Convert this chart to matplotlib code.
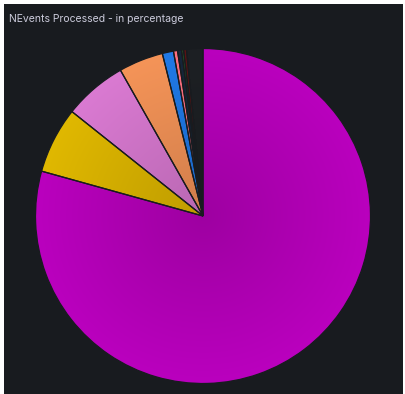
import numpy as np
import matplotlib
matplotlib.use("Agg")
import matplotlib.pyplot as plt
from matplotlib.patches import Rectangle
from matplotlib.colors import to_rgb

title = "NEvents Processed - in percentage"
series = ["s1", "s2", "s3", "s4", "s5", "s6", "s7", "s8", "s9", "s10"]
values = [79.4, 6.4, 6.1, 4.3, 1.08, 0.39, 0.39, 0.19, 0.28, 1.58]
colors = ["#ba00be", "#e0b800", "#da7ad2", "#f59458", "#2079e6",
          "#ff7080", "#16263a", "#2f7a2a", "#5a1414", "#1d2024"]

W, H = 405, 394
fig = plt.figure(figsize=(W / 100, H / 100), dpi=100, facecolor="white")
bg = Rectangle((4 / W, 0), (403 - 4) / W, (H - 4) / H,
               transform=fig.transFigure, facecolor="#181b1f",
               edgecolor="none", zorder=-10)
fig.add_artist(bg)

cx, cy, R = 203, 216, 167.5
ax = fig.add_axes([(cx - R) / W, (H - cy - R) / H, 2 * R / W, 2 * R / H])
ax.set_zorder(5)
ax.axis("off")

wedges, _ = ax.pie(values, colors=colors, startangle=90, counterclock=False,
                   radius=1, wedgeprops=dict(edgecolor="#181b1f", linewidth=0.9))

n = 400
xs = np.linspace(-1, 1, n)
X, Y = np.meshgrid(xs, xs)
r = np.clip(np.sqrt(X ** 2 + Y ** 2), 0, 1)
shade = 0.85 + 0.15 * r
for w, c in zip(wedges, colors):
    rgb = np.array(to_rgb(c))
    img = np.clip(shade[..., None] * rgb[None, None, :], 0, 1)
    im = ax.imshow(img, extent=(-1, 1, -1, 1), origin="lower", zorder=1,
                   interpolation="bilinear")
    im.set_clip_path(w)
    w.set_facecolor("none")
    w.set_zorder(2)
ax.set_xlim(-1, 1)
ax.set_ylim(-1, 1)
ax.set_aspect("equal")

fig.text(9 / W, 1 - 19 / H, title, color="#ccccdc", fontsize=7.5,
         family="Inter", va="center", ha="left", zorder=6)

fig.savefig("out.png", dpi=100, facecolor=fig.get_facecolor())
